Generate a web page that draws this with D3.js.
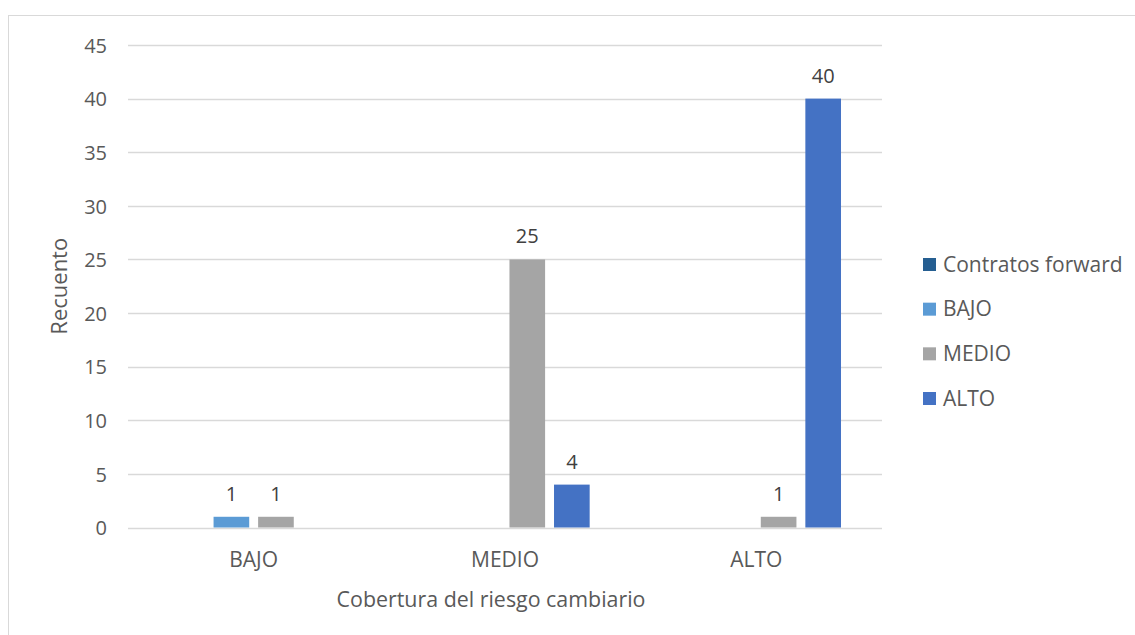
<!DOCTYPE html>
<html>
<head>
<meta charset="utf-8">
<script src="https://cdn.jsdelivr.net/npm/d3@7"></script>
<style>
  html, body { margin: 0; padding: 0; background: #fff; }
  svg { display: block; font-family: "Open Sans", "Noto Sans", sans-serif; }
</style>
</head>
<body>
<svg id="chart" width="1135" height="635"></svg>
<script>
// Categories on the x axis
const categories = ["BAJO", "MEDIO", "ALTO"];
// Series (legend order) and their colours
const seriesNames = ["Contratos forward", "BAJO", "MEDIO", "ALTO"];
const seriesColors = ["#255E91", "#5B9BD5", "#A5A5A5", "#4472C4"];
// Counts per series, one value per category (null = no bar)
const forwardValues = [null, null, null];
const bajoValues = [1, null, null];
const medioValues = [1, 25, 1];
const altoValues = [null, 4, 40];
const yTicks = [0, 5, 10, 15, 20, 25, 30, 35, 40, 45];

const seriesValues = [forwardValues, bajoValues, medioValues, altoValues];

const svg = d3.select("#chart");
const textColor = "#595959";

// Chart frame
svg.append("rect")
  .attr("x", 8.5).attr("y", 15.5)
  .attr("width", 1140).attr("height", 640)
  .attr("fill", "none").attr("stroke", "#d9d9d9").attr("stroke-width", 1);

const plot = { left: 128, right: 882, top: 45, bottom: 527.5 };

const x0 = d3.scaleBand().domain(categories).range([plot.left, plot.right]).padding(0);
const x1 = d3.scaleBand().domain(seriesNames).range([0, x0.bandwidth()])
  .paddingInner(0.2).paddingOuter(0.92);
const y = d3.scaleLinear().domain([0, 45]).range([plot.bottom, plot.top]);

// Gridlines
svg.append("g").selectAll("line").data(yTicks).join("line")
  .attr("x1", plot.left).attr("x2", plot.right)
  .attr("y1", d => Math.round(y(d)) + 0.5).attr("y2", d => Math.round(y(d)) + 0.5)
  .attr("stroke", "#d9d9d9").attr("stroke-width", 1.3);

// Y axis labels
const yAxis = d3.axisLeft(y).tickValues(yTicks).tickSize(0).tickPadding(0);
const gy = svg.append("g").attr("transform", `translate(${plot.left - 21},0)`).call(yAxis);
gy.select(".domain").remove();
gy.selectAll("text").attr("fill", textColor).style("font-size", "20px")
  .style("font-family", "'Open Sans', sans-serif").attr("dy", "0.36em");

// X axis labels
const xAxis = d3.axisBottom(x0).tickSize(0).tickPadding(0);
const gx = svg.append("g").attr("transform", `translate(0,${plot.bottom})`).call(xAxis);
gx.select(".domain").remove();
gx.selectAll("text").attr("fill", textColor).style("font-size", "21px")
  .style("font-family", "'Open Sans', sans-serif").attr("y", 39.5).attr("dy", 0);

// Bars
const rows = [];
seriesNames.forEach((s, si) => {
  categories.forEach((c, ci) => {
    const v = seriesValues[si][ci];
    if (v !== null) rows.push({ series: s, cat: c, value: v, color: seriesColors[si] });
  });
});

svg.append("g").selectAll("rect").data(rows).join("rect")
  .attr("x", d => x0(d.cat) + x1(d.series))
  .attr("width", x1.bandwidth())
  .attr("y", d => y(d.value))
  .attr("height", d => y(0) - y(d.value))
  .attr("fill", d => d.color);

// Value labels
svg.append("g").selectAll("text").data(rows).join("text")
  .attr("x", d => x0(d.cat) + x1(d.series) + x1.bandwidth() / 2)
  .attr("y", d => y(d.value) - 16)
  .attr("text-anchor", "middle")
  .attr("fill", "#404040")
  .style("font-size", "20px")
  .text(d => d.value);

// Axis titles
svg.append("text")
  .attr("x", (plot.left + plot.right) / 2 - 14).attr("y", 607)
  .attr("text-anchor", "middle").attr("fill", textColor)
  .style("font-size", "21.4px")
  .text("Cobertura del riesgo cambiario");

svg.append("text")
  .attr("transform", `translate(67,${(plot.top + plot.bottom) / 2}) rotate(-90)`)
  .attr("text-anchor", "middle").attr("fill", textColor)
  .style("font-size", "22px")
  .text("Recuento");

// Legend
const legend = svg.append("g").attr("transform", "translate(923,0)");
const legendY = d3.scalePoint().domain(seriesNames).range([264, 398]);
const li = legend.selectAll("g").data(seriesNames).join("g")
  .attr("transform", d => `translate(0,${legendY(d)})`);
li.append("rect").attr("x", 0).attr("y", -6).attr("width", 13).attr("height", 13)
  .attr("fill", (d, i) => seriesColors[i]);
li.append("text").attr("x", 20).attr("y", 0).attr("dy", "0.36em")
  .attr("fill", textColor).style("font-size", "21px").text(d => d);
</script>
</body>
</html>
